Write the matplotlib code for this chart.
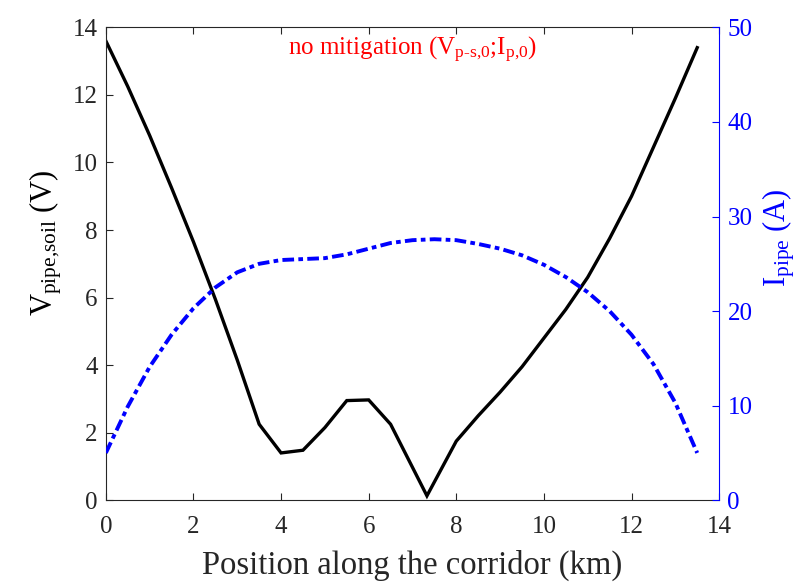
import matplotlib
matplotlib.use("Agg")
import matplotlib.pyplot as plt

plt.rcParams["font.family"] = ["Liberation Serif", "DejaVu Serif"]
plt.rcParams["mathtext.fontset"] = "custom"
plt.rcParams["mathtext.rm"] = "Liberation Serif"
plt.rcParams["mathtext.it"] = "Liberation Serif:italic"

# pipe-to-soil voltage (V) along the corridor
pos_v = [0, 0.5, 1, 1.5, 2, 2.5, 3, 3.5, 4, 4.5, 5, 5.5, 6, 6.5, 7.33,
         8, 8.5, 9, 9.5, 10, 10.5, 11, 11.5, 12, 12.5, 13, 13.5]
v_pipe = [13.6, 12.25, 10.8, 9.25, 7.65, 5.95, 4.15, 2.25, 1.4, 1.48, 2.15,
          2.95, 2.97, 2.25, 0.13, 1.75, 2.5, 3.2, 3.95, 4.8, 5.65, 6.6, 7.75,
          9.0, 10.45, 11.9, 13.4]

# pipe current (A)
pos_i = [0, 0.5, 1, 1.5, 2, 2.5, 3, 3.5, 4, 4.5, 5, 5.5, 6, 6.5, 7, 7.5,
         8, 8.5, 9, 9.5, 10, 10.5, 11, 11.5, 12, 12.5, 13, 13.5]
i_pipe = [5.0, 9.9, 14.1, 17.5, 20.3, 22.5, 24.1, 25.0, 25.4, 25.5, 25.6,
          26.0, 26.6, 27.2, 27.5, 27.6, 27.5, 27.1, 26.6, 25.9, 24.9, 23.6,
          22.0, 20.0, 17.5, 14.4, 10.3, 5.0]

AX_GREY = "#262626"

fig = plt.figure(figsize=(8.08, 5.83), dpi=100)
ax = fig.add_axes([0.131, 0.142, 0.759, 0.811])
ax2 = ax.twinx()

ax.plot(pos_v, v_pipe, color="black", lw=2.4, solid_joinstyle="miter")
ax2.plot(pos_i, i_pipe, color="blue", lw=2.8,
         linestyle=(0, (3.0, 1.1, 1.2, 1.1)), dash_capstyle="butt")

ax.set_xlim(0, 14)
ax.set_ylim(0, 14)
ax2.set_ylim(0, 50)
ax.set_xticks(range(0, 15, 2))
ax.set_yticks(range(0, 15, 2))
ax2.set_yticks(range(0, 51, 10))

for side in ("left", "bottom", "top"):
    ax.spines[side].set_color(AX_GREY)
ax.spines["right"].set_visible(False)
for side in ("left", "bottom", "top"):
    ax2.spines[side].set_visible(False)
ax2.spines["right"].set_color("blue")

ax.tick_params(direction="in", length=5, width=0.8, top=True, colors=AX_GREY,
               labelsize=18, pad=6)
ax.tick_params(axis="x", pad=11.5)
ax2.tick_params(direction="in", length=5, width=0.8, colors="blue",
                labelcolor="blue", labelsize=18, pad=6)

ax.set_xlabel("Position along the corridor (km)", fontsize=23.5,
              color=AX_GREY, labelpad=8)
ax.set_ylabel(r"V$_{\text{pipe,soil}}$ (V)", fontsize=22, color="black",
              labelpad=6)
ax2.set_ylabel(r"I$_{\text{pipe}}$ (A)", fontsize=22, color="blue",
               labelpad=6)
ax.yaxis.label.set_y(0.544)
ax2.yaxis.label.set_y(0.555)

ax.text(0.5, 0.985, r"no mitigation (V$_{\text{p-s,0}}$;I$_{\text{p,0}}$)",
        transform=ax.transAxes, ha="center", va="top", color="red",
        fontsize=18)

fig.savefig("out.png", dpi=100)
